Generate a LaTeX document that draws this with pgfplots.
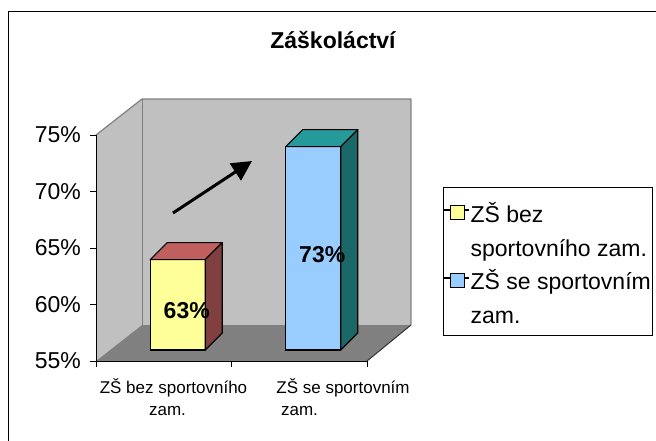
\documentclass[border=0pt]{standalone}
\usepackage{fontspec}
\setmainfont{Liberation Sans}
\usepackage{pgfplots}
\pgfplotsset{compat=1.18}
\usetikzlibrary{arrows.meta}
\definecolor{wall}{HTML}{C0C0C0}
\definecolor{floorc}{HTML}{808080}
\definecolor{edge}{HTML}{808080}
\definecolor{yfront}{HTML}{FFFF99}
\definecolor{ytop}{HTML}{C0605E}
\definecolor{yside}{HTML}{80403F}
\definecolor{bfront}{HTML}{99CCFF}
\definecolor{btop}{HTML}{269A9A}
\definecolor{bside}{HTML}{1B6868}
\newcommand{\bigfont}{\fontsize{23bp}{27bp}\selectfont}
\newcommand{\barfaces}[4]{%
  \filldraw[fill=#3, draw=black, line width=1.2bp, line join=round]
    ([shift={(-27.5bp,0bp)}]axis cs:#1,#2) -- ([shift={(27.5bp,0bp)}]axis cs:#1,#2)
    -- ([shift={(44.5bp,17bp)}]axis cs:#1,#2) -- ([shift={(-10.5bp,17bp)}]axis cs:#1,#2) -- cycle;
  \filldraw[fill=#4, draw=black, line width=1.2bp, line join=round]
    ([shift={(27.5bp,0bp)}]axis cs:#1,#2) -- ([shift={(44.5bp,17bp)}]axis cs:#1,#2)
    -- ([shift={(44.5bp,17bp)}]axis cs:#1,55) -- ([shift={(27.5bp,0bp)}]axis cs:#1,55) -- cycle;
  \draw[black, line width=1.2bp] ([shift={(-27.5bp,0bp)}]axis cs:#1,55) -- ([shift={(27.5bp,0bp)}]axis cs:#1,55);
}
\begin{document}
\begin{tikzpicture}
\path[use as bounding box] (0,0) rectangle (656bp,-441bp);
\begin{scope}[x=1bp,y=-1bp]
  \fill[white] (0,0) rectangle (656,441);
  \draw[black, line width=1bp] (8,441) -- (8,11) -- (656,11);
  % walls and floor
  \fill[wall] (96,361) -- (96,135) -- (142,99) -- (142,325) -- cycle;
  \fill[wall] (142,99) rectangle (411,325);
  \fill[floorc] (96,361) -- (142,325) -- (411,325) -- (367,361) -- cycle;
  \draw[edge, line width=1.2bp, line join=round] (96,135) -- (142,99) -- (411,99) -- (411,325);
  \draw[edge, line width=1bp] (142,99) -- (142,325);
  \draw[black!80, line width=1bp] (411,325) -- (367,361);
  % title
  \node[font=\bfseries\bigfont] at (333,40) {Záškoláctví};
\end{scope}

% front plane axis: values and ticks
\begin{axis}[
  at={(96bp,-361bp)}, anchor=south west,
  scale only axis, width=271bp, height=226bp,
  xmin=0, xmax=2, ymin=55, ymax=75,
  axis x line*=bottom, axis y line*=left,
  axis line style={black, line width=1bp, -},
  xtick={0,1,2}, xticklabels={},
  ytick={55,60,65,70,75},
  tick align=outside,
  major tick length=6bp,
  tick style={black, line width=1bp},
  /pgf/number format/assume math mode=true,
  yticklabel={\pgfmathprintnumber{\tick}\%},
  yticklabel style={font=\bigfont, inner sep=0pt, xshift=-9bp},
  clip=false,
]
\end{axis}

% bar plane axis
\begin{axis}[
  at={(110bp,-350bp)}, anchor=south west,
  scale only axis, width=271bp, height=226bp,
  xmin=0, xmax=2, ymin=55, ymax=75,
  hide axis,
  clip mode=individual,
  legend style={at={(1.2288,0.7212)}, anchor=north west, draw=black,
    line width=0.8bp, fill=white, inner xsep=0pt, inner ysep=8bp,
    row sep=3.3bp, column sep=0pt,
    font=\fontsize{23bp}{27bp}\selectfont,
    cells={anchor=base west, inner sep=0pt, text height=25bp, text depth=5bp}},
  legend cell align=left,
]
\addplot[ybar, bar width=55bp, bar shift=0pt, fill=yfront, draw=black, line width=1.2bp,
  legend image code/.code={\path (0bp,0bp) rectangle (24bp,1bp);
    \draw[fill=yfront, draw=black, line width=1bp] (6bp,-9bp) rectangle (20bp,5bp);}]
  coordinates {(0.5,63)};
\addlegendentry{ZŠ bez}
\addlegendimage{empty legend}
\addlegendentry{sportovního zam.}
\addplot[ybar, bar width=55bp, bar shift=0pt, fill=bfront, draw=black, line width=1.2bp,
  legend image code/.code={\path (0bp,0bp) rectangle (24bp,1bp);
    \draw[fill=bfront, draw=black, line width=1bp] (6bp,-9bp) rectangle (20bp,5bp);}]
  coordinates {(1.5,73)};
\addlegendentry{ZŠ se sportovním}
\addlegendimage{empty legend}
\addlegendentry{zam.\hspace*{60bp}}
\barfaces{0.5}{63}{ytop}{yside}
\barfaces{1.5}{73}{btop}{bside}
\node[font=\bfseries\bigfont] at ([shift={(9bp,-6bp)}]axis cs:0.5,59) {63\%};
\node[font=\bfseries\bigfont] at ([shift={(9bp,-6bp)}]axis cs:1.5,64) {73\%};
\end{axis}

\begin{scope}[x=1bp,y=-1bp]
  \draw[black, line width=3bp, -{Triangle[length=20bp, width=20bp]}] (173,213) -- (252,161);
  \node[font=\fontsize{17bp}{20bp}\selectfont] at (173.5,388) {ZŠ bez sportovního};
  \node[font=\fontsize{17bp}{20bp}\selectfont] at (167.5,411) {zam.};
  \node[font=\fontsize{17bp}{20bp}\selectfont] at (343,388) {ZŠ se sportovním};
  \node[font=\fontsize{17bp}{20bp}\selectfont] at (299.5,411) {zam.};
\end{scope}
\end{tikzpicture}
\end{document}
